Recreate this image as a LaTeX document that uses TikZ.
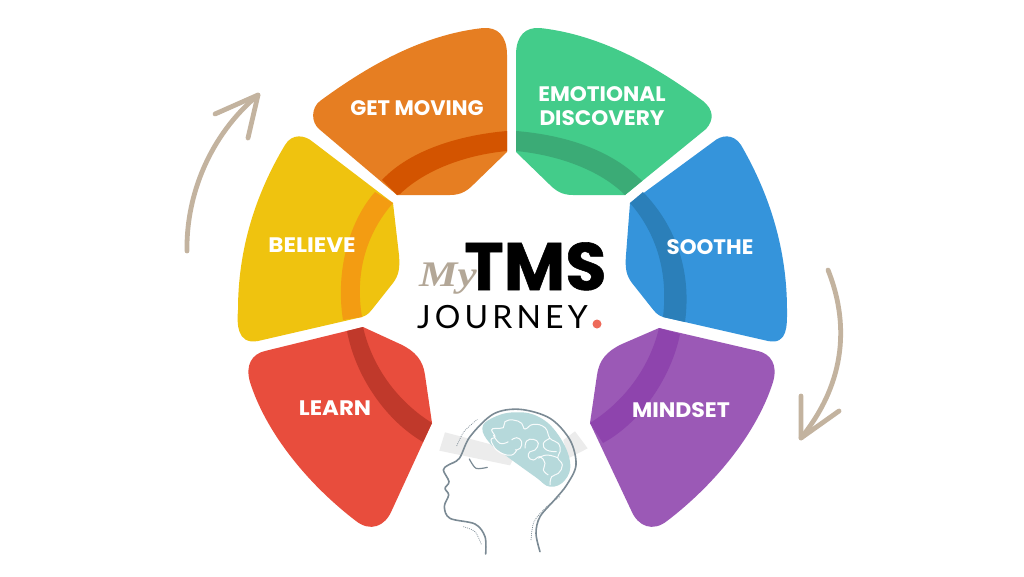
\documentclass[tikz,border=0pt]{standalone}
\usepackage{fontspec}
\newfontfamily\labfont{Poppins}
\newfontfamily\tmsfont{Poppins}[BoldFeatures={FakeBold=0.8}]
\newfontfamily\jfont[LetterSpace=13]{Lato}
\newfontfamily\myfont{Liberation Serif}
\definecolor{cOrange}{HTML}{E67E22}\definecolor{dOrange}{HTML}{D35400}
\definecolor{cGreen}{HTML}{43CC8A}\definecolor{dGreen}{HTML}{3BAB76}
\definecolor{cYellow}{HTML}{EFC30F}\definecolor{dYellow}{HTML}{F39C12}
\definecolor{cBlue}{HTML}{3594DB}\definecolor{dBlue}{HTML}{2B7FB9}
\definecolor{cRed}{HTML}{E84D3D}\definecolor{dRed}{HTML}{C0392B}
\definecolor{cPurple}{HTML}{9B59B6}\definecolor{dPurple}{HTML}{8E44AD}
\definecolor{tan}{HTML}{C3B39F}\definecolor{headline}{HTML}{7B8A94}
\definecolor{brain}{HTML}{B6D9DB}\definecolor{coral}{HTML}{EE6A5A}
\definecolor{myc}{HTML}{B3A797}\definecolor{bandgrey}{HTML}{ECECEC}
\tikzset{
 lab/.style={text=white,font=\labfont\bfseries\fontsize{21}{24}\selectfont,align=center,inner sep=0pt},
 sweep/.style={draw=tan,line width=4.8pt,line cap=round,line join=round},
 headstroke/.style={draw=headline,line width=1.6pt,line cap=round,line join=round},
 dots/.style={draw=headline,line width=.7pt,dash pattern=on .9pt off 1.1pt},
 fold/.style={draw=white,line width=1pt,opacity=.9}
}
\begin{document}
\begin{tikzpicture}[x=1pt,y=-1pt]
\useasboundingbox (0,0) rectangle (1024,576);
\fill[white] (0,0) rectangle (1024,576);
% orange
\fill[cOrange] (507,55) .. controls (507,35) and (497,27) .. (483,28) .. controls (420,35) and (365,68) .. (320,101) .. controls (311,108) and (311,122) .. (319,129) -- (397,195) -- (450,195) .. controls (462,195) and (468,190) .. (474,184) -- (507,152) -- cycle;
\fill[dOrange] (507,131) .. controls (460,135) and (410,150) .. (382,180) -- (397,195) -- (400,194) .. controls (425,170) and (465,155) .. (507,151) -- cycle;
% green
\fill[cGreen] (516,55) .. controls (516,35) and (526,27) .. (540,28) .. controls (603,35) and (658,68) .. (703,101) .. controls (714,110) and (714,120) .. (706,129) -- (625,195) -- (573,195) .. controls (561,195) and (555,190) .. (549,184) -- (516,152) -- cycle;
\fill[dGreen] (516,131) .. controls (565,135) and (612,150) .. (642,181) -- (625,195) .. controls (600,170) and (558,155) .. (516,151) -- cycle;
% yellow
\fill[cYellow] (313,142) .. controls (305,135) and (292,133) .. (285,145) .. controls (255,195) and (238,250) .. (238,310) .. controls (237,322) and (236,345) .. (258,341) -- (362,317) .. controls (368,315) and (370,312) .. (374,307) -- (393,283) .. controls (399,275) and (400,268) .. (399,255) -- (393,203) -- cycle;
\fill[dYellow] (375,192) .. controls (350,220) and (335,270) .. (343,320) -- (362,317) .. controls (355,275) and (365,235) .. (393,203) -- cycle;
% blue
\fill[cBlue] (713,142) .. controls (721,135) and (733,133) .. (741,145) .. controls (770,195) and (787,250) .. (787,310) .. controls (787,325) and (788,345) .. (768,341) -- (663,317) .. controls (657,315) and (655,312) .. (651,307) -- (632,283) .. controls (626,275) and (625,268) .. (626,255) -- (630,203) -- cycle;
\fill[dBlue] (643,192) .. controls (675,225) and (692,270) .. (685,322) -- (663,317) .. controls (668,275) and (658,235) .. (630,203) -- cycle;
% red
\fill[cRed] (363,327) -- (400,344) .. controls (415,351) and (423,360) .. (425,375) -- (432,423) -- (392,510) .. controls (385,527) and (370,532) .. (356,521) .. controls (305,482) and (265,430) .. (250,382) .. controls (245,365) and (252,354) .. (265,351) -- cycle;
\fill[dRed] (347,331) .. controls (355,375) and (385,420) .. (423,442) -- (432,423) .. controls (400,403) and (373,370) .. (363,327) -- cycle;
% purple
\fill[cPurple] (659,328) -- (622,344) .. controls (607,351) and (599,360) .. (597,375) -- (590,423) -- (631,510) .. controls (638,527) and (653,532) .. (667,521) .. controls (718,482) and (758,430) .. (773,382) .. controls (778,365) and (771,354) .. (758,351) -- cycle;
\fill[dPurple] (680,334) .. controls (672,375) and (642,422) .. (603,443) -- (590,423) .. controls (622,403) and (649,370) .. (659,328) -- cycle;
% labels
\node[lab] (n1) at (417,108) {GET MOVING};
\node[lab] (n2) at (602,106) {\scalebox{1.03}[1]{EMOTIONAL}\\\scalebox{1.03}[1]{DISCOVERY}};
\node[lab] (n3) at (312,245) {\scalebox{1.1}[1]{BELIEVE}};
\node[lab] (n4) at (710,247) {\scalebox{1.02}[1]{SOOTHE}};
\node[lab] (n5) at (335,408) {\scalebox{1.09}[1]{LEARN}};
\node[lab] (n6) at (681,410) {\scalebox{1.05}[1]{MINDSET}};
% arrows
\coordinate (la) at (187,251); \coordinate (lb) at (258,95);
\draw[sweep] (la) .. controls (186,195) and (210,135) .. (lb);
\draw[sweep] (215,114) -- (lb) -- (248,138);
\coordinate (ra) at (828,270); \coordinate (rb) at (801,438);
\draw[sweep] (ra) .. controls (848,320) and (848,380) .. (rb);
\draw[sweep] (801,396) -- (rb) -- (839,411);
% logo
\node[inner sep=0pt,anchor=base west,text=black,font=\tmsfont\bfseries\fontsize{67}{67}\selectfont] (tms) at (464,290) {TMS};
\node[inner sep=0pt,anchor=base west,text=myc,font=\myfont\itshape\bfseries\fontsize{36}{36}\selectfont] (my) at (419,286) {\scalebox{1.2}[1]{My}};
\node[inner sep=0pt,anchor=base west,text=black,font=\jfont\fontsize{32}{32}\selectfont] (jy) at (417,328) {JOURNEY};
\fill[coral] (597,324) circle (4.5);
% head
\begin{scope}[shift={(400,390)},scale=1/3]
\fill[bandgrey] (135,127) -- (280,165) -- (345,195) -- (330,226) -- (118,182) -- cycle;
\fill[bandgrey] (525,124) -- (563,175) -- (505,205) -- (490,150) -- cycle;
\draw[headstroke] plot[smooth,tension=.55] coordinates {(257,492) (255,440) (225,402) (150,385) (133,350) (146,315) (135,295) (147,275) (130,240) (145,225) (178,205) (210,140) (280,72) (360,58) (450,85) (510,150) (528,225) (500,285) (465,328) (420,380) (408,430) (420,485)};
\draw[headstroke,line width=1.2pt] plot[smooth] coordinates {(208,207) (228,235) (262,232)};
\draw[dots] plot[smooth] coordinates {(170,168) (192,125) (232,88)};
\draw[dots] plot[smooth] coordinates {(190,410) (225,425) (245,465)};
\draw[dots] plot[smooth] coordinates {(393,450) (402,395) (440,350) (482,318)};
\end{scope}
\begin{scope}[shift={(475,405)},scale=1/3]
\fill[brain] plot[smooth cycle,tension=.7] coordinates {(22,70) (50,40) (115,22) (190,35) (250,90) (285,170) (270,225) (225,245) (180,215) (90,150) (45,115)};
\draw[fold] plot[smooth,tension=.8] coordinates {(60,130) (48,105) (60,95) (50,75) (62,70) (85,68) (90,50) (115,45) (140,55) (150,72) (175,58) (210,68) (225,100) (250,115) (255,140) (248,158) (262,180) (250,205) (230,215) (225,240)};
\draw[fold] plot[smooth,tension=.8] coordinates {(110,105) (125,98) (140,110) (135,130) (120,135)};
\draw[fold] plot[smooth,tension=.8] coordinates {(150,130) (155,108) (175,103) (190,115) (180,135) (165,140) (160,155) (175,165) (195,155) (210,175) (205,195) (220,210)};
\draw[fold] plot[smooth,tension=.8] coordinates {(225,100) (205,115) (215,135) (245,140)};
\draw[fold] plot[smooth,tension=.8] coordinates {(60,130) (80,145) (110,150) (125,135)};
\draw[fold] plot[smooth,tension=.8] coordinates {(190,160) (215,150) (248,158)};
\draw[fold] plot[smooth,tension=.8] coordinates {(55,90) (75,115) (100,110)};
\end{scope}
\end{tikzpicture}
\end{document}
